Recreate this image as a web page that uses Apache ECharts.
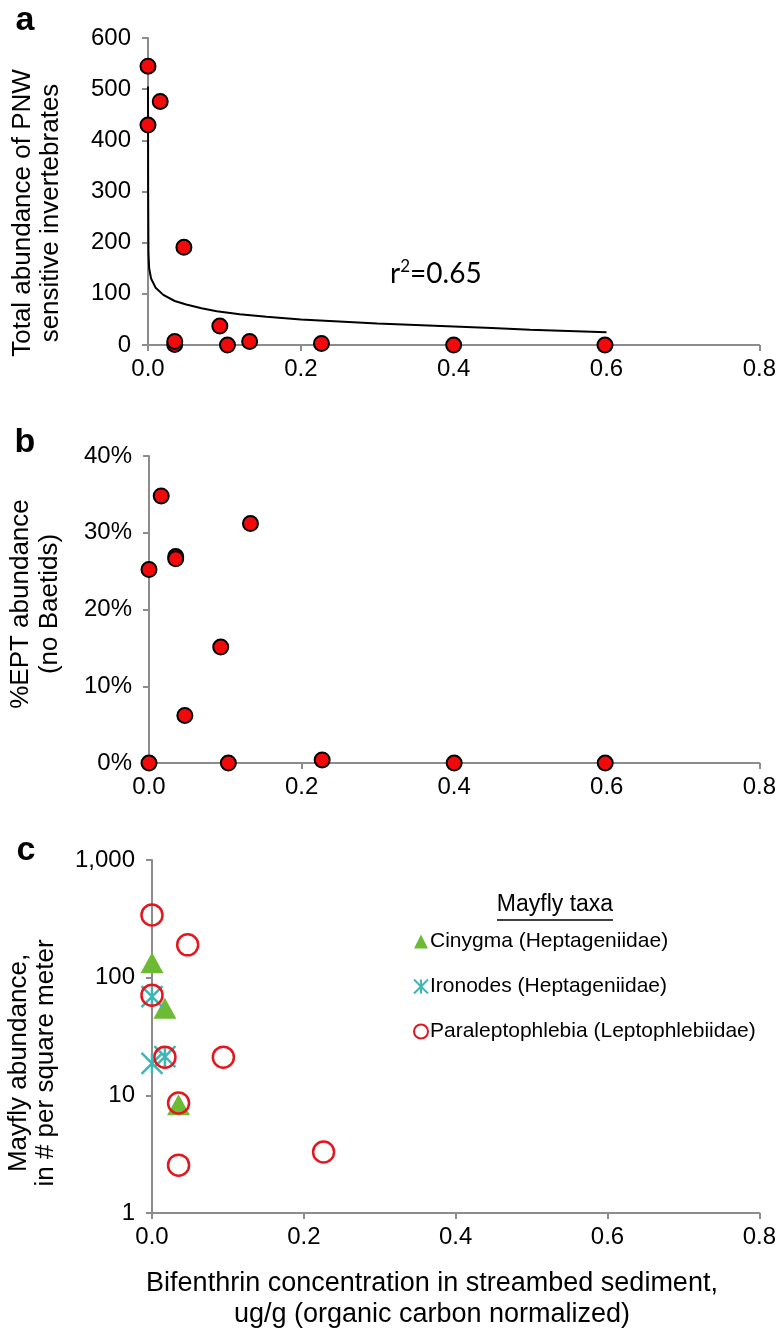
<!DOCTYPE html>
<html>
<head>
<meta charset="utf-8">
<script src="https://cdn.jsdelivr.net/npm/echarts@6/dist/echarts.min.js"></script>
<style>
html,body{margin:0;padding:0;background:#fff;}
#chart{width:779px;height:1329px;}
</style>
</head>
<body>
<div id="chart"></div>
<script>
// ---- data ----
// sites: bifenthrin concentration (ug/g OC normalized)
const siteX = [0, 0, 0.016, 0.035, 0.035, 0.047, 0.094, 0.104, 0.133, 0.227, 0.4, 0.598];
// panel a: total abundance of PNW sensitive invertebrates
const abundance = [545, 430, 476, 1, 7, 191, 37, 0, 7, 3, 0, 0];
// panel a: fitted trend line
const trendX = [0.00001, 0.0002, 0.0006, 0.0015, 0.004, 0.01, 0.02, 0.035, 0.05, 0.07, 0.09, 0.12, 0.155, 0.2, 0.25, 0.3, 0.35, 0.4, 0.45, 0.5, 0.55, 0.6];
const trendY = [505, 300, 180, 150, 130, 112, 98, 86, 79, 72, 66, 60, 55, 50, 46, 42, 39, 36, 33, 30, 27.5, 25];
// panel b: %EPT abundance (no Baetids)
const eptPct = [25.2, 0, 34.8, 26.9, 26.6, 6.2, 15.1, 0, 31.2, 0.4, 0, 0];
// panel c: mayfly abundance (# per square meter)
const cinygmaX = [0, 0.017, 0.035];
const cinygmaY = [134, 55, 8.3];
const ironodesX = [0, 0.017, 0];
const ironodesY = [69, 21.3, 18.7];
const paraX = [0, 0.047, 0, 0.017, 0.094, 0.035, 0.035, 0.226];
const paraY = [341, 190, 71, 21.1, 21.1, 8.6, 2.55, 3.3];
const xTicks = [0, 0.2, 0.4, 0.6, 0.8];
const seriesNames = ['Cinygma (Heptageniidae)', 'Ironodes (Heptageniidae)', 'Paraleptophlebia (Leptophlebiidae)'];

// ---- build ----
const FONT = '"Liberation Sans", Arial, sans-serif';
const AX = '#8c8c8c';
const zip = (xs, ys) => xs.map((x, i) => [x, ys[i]]);

function xAxis(gridIndex) {
  return {
    type: 'value', gridIndex, min: xTicks[0], max: xTicks[xTicks.length - 1], interval: 0.2,
    axisLine: { show: true, onZero: false, lineStyle: { color: AX, width: 2 } },
    axisTick: { show: true, inside: false, length: 6, lineStyle: { color: AX, width: 2 } },
    splitLine: { show: false },
    axisLabel: { color: '#000', fontFamily: FONT, fontSize: 24, margin: 12, formatter: v => v.toFixed(1) }
  };
}
function yBase(gridIndex) {
  return {
    gridIndex,
    axisLine: { show: true, lineStyle: { color: AX, width: 2 } },
    axisTick: { show: true, inside: false, length: 6, lineStyle: { color: AX, width: 2 } },
    splitLine: { show: false },
    minorTick: { show: false },
    axisLabel: { color: '#000', fontFamily: FONT, fontSize: 24, margin: 17 }
  };
}

const yA = Object.assign(yBase(0), { type: 'value', min: 0, max: 600, interval: 100 });
const yB = Object.assign(yBase(1), { type: 'value', min: 0, max: 40, interval: 10 });
yB.axisLabel.formatter = '{value}%';
const yC = Object.assign(yBase(2), { type: 'log', logBase: 10, min: 1, max: 1000 });
yC.axisLabel.formatter = v => Number(v).toLocaleString('en-US');

const redDot = { color: '#f20a0a', borderColor: '#000', borderWidth: 2, opacity: 1 };

const option = {
  animation: false,
  backgroundColor: '#fff',
  grid: [
    { left: 148, top: 38, width: 613, height: 307 },
    { left: 149, top: 456, width: 612, height: 307 },
    { left: 152, top: 860, width: 608, height: 353 }
  ],
  xAxis: [xAxis(0), xAxis(1), xAxis(2)],
  yAxis: [yA, yB, yC],
  legend: {
    data: seriesNames,
    orient: 'vertical', left: 408, top: 926,
    itemWidth: 14, itemHeight: 14, itemGap: 24,
    textStyle: { fontFamily: FONT, fontSize: 21, color: '#000', lineHeight: 20, padding: [0, 0, 0, -3] }
  },
  series: [
    { type: 'line', xAxisIndex: 0, yAxisIndex: 0, data: zip(trendX, trendY), showSymbol: false, smooth: false,
      lineStyle: { color: '#000', width: 2 }, z: 1 },
    { type: 'scatter', xAxisIndex: 0, yAxisIndex: 0, data: zip(siteX, abundance), symbol: 'circle', symbolSize: 15, itemStyle: redDot, z: 3 },
    { type: 'scatter', xAxisIndex: 1, yAxisIndex: 1, data: zip(siteX, eptPct), symbol: 'circle', symbolSize: 15, itemStyle: redDot, z: 3 },
    { name: seriesNames[0], type: 'scatter', xAxisIndex: 2, yAxisIndex: 2, data: zip(cinygmaX, cinygmaY), symbol: 'triangle', symbolSize: [23, 21],
      itemStyle: { color: '#6dbb35', opacity: 1 } },
    { name: seriesNames[1], type: 'scatter', xAxisIndex: 2, yAxisIndex: 2, data: zip(ironodesX, ironodesY),
      symbol: 'path://M0,0L10,10M10,0L0,10M5,0L5,10', symbolSize: 21,
      itemStyle: { color: 'rgba(0,0,0,0)', borderColor: '#3db7b5', borderWidth: 2.5, opacity: 1 } },
    { name: seriesNames[2], type: 'scatter', xAxisIndex: 2, yAxisIndex: 2, data: zip(paraX, paraY), symbol: 'circle', symbolSize: 21,
      itemStyle: { color: 'rgba(0,0,0,0)', borderColor: '#e3171f', borderWidth: 2.5, opacity: 1 } }
  ],
  graphic: [
    { type: 'text', x: 25, y: 21, style: { text: 'a', font: 'bold 34px ' + FONT, fill: '#000', align: 'center', verticalAlign: 'middle' } },
    { type: 'text', x: 25, y: 443, style: { text: 'b', font: 'bold 34px ' + FONT, fill: '#000', align: 'center', verticalAlign: 'middle' } },
    { type: 'text', x: 26, y: 851, style: { text: 'c', font: 'bold 34px ' + FONT, fill: '#000', align: 'center', verticalAlign: 'middle' } },
    { type: 'text', x: 37, y: 213, rotation: Math.PI / 2,
      style: { text: 'Total abundance of PNW\nsensitive invertebrates', font: '26px ' + FONT, fill: '#000', align: 'center', verticalAlign: 'middle', lineHeight: 28 } },
    { type: 'text', x: 35, y: 604, rotation: Math.PI / 2,
      style: { text: '%EPT abundance\n(no Baetids)', font: '26px ' + FONT, fill: '#000', align: 'center', verticalAlign: 'middle', lineHeight: 29 } },
    { type: 'text', x: 32, y: 1063, rotation: Math.PI / 2,
      style: { text: 'Mayfly abundance,\nin # per square meter', font: '26px ' + FONT, fill: '#000', align: 'center', verticalAlign: 'middle', lineHeight: 27 } },
    { type: 'text', x: 432, y: 1299,
      style: { text: 'Bifenthrin concentration in streambed sediment,\nug/g (organic carbon normalized)', font: '27px ' + FONT, fill: '#000', align: 'center', verticalAlign: 'middle', lineHeight: 31 } },
    { type: 'text', x: 390, y: 274,
      style: {
        text: '{a|r}{s|2}{a|=0.65}', align: 'left', verticalAlign: 'middle',
        rich: {
          a: { fontFamily: 'Lato, "Open Sans", sans-serif', fontSize: 28, fill: '#000', color: '#000', lineHeight: 30 },
          s: { fontFamily: 'Lato, "Open Sans", sans-serif', fontSize: 17, fill: '#000', color: '#000', lineHeight: 30, padding: [0, 0, 14, 0] }
        }
      } },
    { type: 'text', x: 555, y: 905,
      style: { text: 'Mayfly taxa', font: '23px ' + FONT, fill: '#000', align: 'center', verticalAlign: 'middle' } },
    { type: 'line', shape: { x1: 497, y1: 920, x2: 613, y2: 920 }, style: { stroke: '#000', lineWidth: 1.5 } }
  ]
};

const chart = echarts.init(document.getElementById('chart'), null, { renderer: 'canvas' });
chart.setOption(option);
</script>
</body>
</html>
